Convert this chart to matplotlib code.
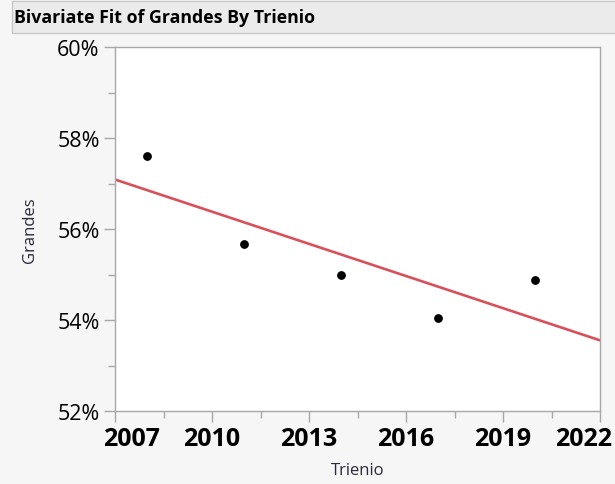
import matplotlib.pyplot as plt
import numpy as np
from matplotlib.ticker import MultipleLocator, FuncFormatter
from matplotlib.patches import Rectangle
from matplotlib.transforms import ScaledTranslation

trienio = [2008, 2011, 2014, 2017, 2020]
grandes = [57.60, 55.67, 55.00, 54.04, 54.88]

xticks = [2007, 2010, 2013, 2016, 2019, 2022]
yticks = [52, 54, 56, 58, 60]

plt.rcParams['font.family'] = ['Open Sans', 'DejaVu Sans']

fig = plt.figure(figsize=(6.15, 4.85), dpi=100)
fig.patch.set_facecolor('#f6f6f6')

# title bar
fig.patches.append(Rectangle((12 / 615, 1 - 34 / 485), 1, 32 / 485, transform=fig.transFigure,
                             facecolor='#ebebeb', edgecolor='#c8c8c8', lw=1))
fig.text(14 / 615, 1 - 18 / 485, 'Bivariate Fit of Grandes By Trienio', fontsize=12.8,
         fontweight='bold', va='center', ha='left', color='black')

ax = fig.add_axes([115 / 615, 73 / 485, 485 / 615, 364 / 485])
ax.set_facecolor('white')

ax.scatter(trienio, grandes, s=28, color='black', zorder=3)

# linear fit
slope, intercept = np.polyfit(trienio, grandes, 1)
xl = np.array([2007, 2022])
ax.plot(xl, slope * xl + intercept, color='#d9505a', lw=1.9, zorder=2)

ax.set_xlim(2007, 2022)
ax.set_ylim(52, 60)
ax.set_xticks(xticks)
ax.set_yticks(yticks)
ax.xaxis.set_minor_locator(MultipleLocator(1.5))
ax.yaxis.set_minor_locator(MultipleLocator(1))
ax.yaxis.set_major_formatter(FuncFormatter(lambda v, p: f'{v:.0f}%'))

for s in ax.spines.values():
    s.set_color('#a8a8a8')
    s.set_linewidth(1)

ax.tick_params(which='major', length=8, color='#a8a8a8', width=1)
ax.tick_params(which='minor', length=5, color='#a8a8a8', width=1)
ax.tick_params(axis='y', labelsize=15.5, pad=3)
ax.tick_params(axis='x', labelsize=18, pad=3)
xlabels = ax.get_xticklabels()
for t in xlabels:
    t.set_fontweight('bold')
# keep end labels inside like JMP does
xlabels[0].set_transform(xlabels[0].get_transform() + ScaledTranslation(16 / 100, 0, fig.dpi_scale_trans))
xlabels[-1].set_transform(xlabels[-1].get_transform() + ScaledTranslation(-16 / 100, 0, fig.dpi_scale_trans))

ax.set_xlabel('Trienio', fontsize=12, color='#2a2a3a', labelpad=8)
ax.set_ylabel('Grandes', fontsize=12, color='#2a2a3a', labelpad=14)

fig.savefig('out.png', dpi=100, facecolor=fig.get_facecolor())
